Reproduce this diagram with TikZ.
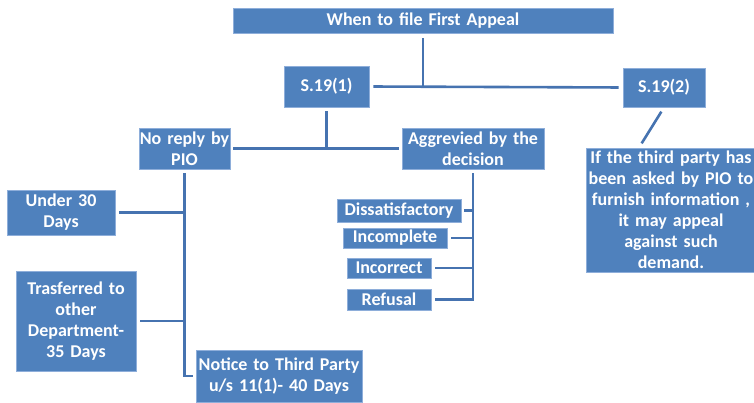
\documentclass[tikz,border=0pt]{standalone}
\usepackage{fontspec}
\setmainfont{Carlito}
\usetikzlibrary{calc}
\definecolor{boxblue}{HTML}{4F81BD}
\definecolor{boxedge}{HTML}{8EAEDA}
\definecolor{linkblue}{HTML}{4673B0}
\tikzset{
  bx/.style={fill=boxblue, draw=boxedge, line width=0.8pt, inner sep=0pt,
    align=center, text=white, font=\fontsize{18}{21}\selectfont\bfseries},
  lnk/.style={draw=linkblue, line width=2.6pt},
}
\newcommand{\bxnode}[6]{\node[bx, text width=#4pt, minimum height=#5pt] (#1) at (#2,#3) {#6};}
\begin{document}
\begin{tikzpicture}[x=1pt,y=-1pt]
\useasboundingbox (0,0) rectangle (754,403);
\bxnode{top}{423}{20.5}{380}{25}{When to file First Appeal}
\bxnode{sa}{326.5}{86.5}{85}{41}{S.19(1)}
\bxnode{sb}{664}{87.5}{82}{39}{S.19(2)}
\bxnode{third}{671}{210}{170}{124}{If the third party has\\been asked by PIO to\\furnish information ,\\it may appeal\\against such\\demand.}
\bxnode{noreply}{184.5}{148.5}{91}{41}{No reply by\\PIO}
\bxnode{aggr}{473}{148.5}{142}{41}{Aggrevied by the\\decision}
\bxnode{diss}{399}{210.5}{124}{23}{Dissatisfactory}
\bxnode{incomp}{395}{238}{104}{20}{Incomplete}
\bxnode{incorr}{389}{268}{84}{20}{Incorrect}
\bxnode{refusal}{389}{299.5}{84}{21}{Refusal}
\bxnode{under}{61}{212.5}{108}{45}{Under 30\\Days}
\bxnode{trans}{76}{321}{120}{100}{Trasferred to\\other\\Department-\\35 Days}
\bxnode{notice}{279}{376}{166}{52}{Notice to Third Party\\u/s 11(1)- 40 Days}
% top level
\draw[lnk, shorten <=5pt] (top.south) -- (top.south |- sa.east);
\draw[lnk, shorten <=4pt, shorten >=4pt] (sa.east) -- (sb.west);
\draw[lnk, shorten <=5pt, shorten >=5pt] (sb.south) -- ($(third.north)+(-32,0)$);
% S.19(1)
\draw[lnk, shorten <=4pt] (sa.south) -- (sa.south |- noreply.east);
\draw[lnk, shorten <=3pt, shorten >=3pt] (noreply.east) -- (aggr.west);
% aggrieved branch
\draw[lnk, shorten <=4pt] (aggr.south) -- (aggr.south |- refusal.east) -- ($(refusal.east)+(4,0)$);
\draw[lnk, shorten <=3pt] (diss.east) -- (diss.east -| aggr.south);
\draw[lnk, shorten <=4pt] (incomp.east) -- (incomp.east -| aggr.south);
\draw[lnk, shorten <=4pt] (incorr.east) -- (incorr.east -| aggr.south);
% no reply branch
\draw[lnk, shorten <=4pt] (noreply.south) -- (noreply.south |- notice.west) -- ($(notice.west)+(-3,0)$);
\draw[lnk, shorten <=4pt] (under.east) -- (under.east -| noreply.south);
\draw[lnk, shorten <=4pt] (trans.east) -- (trans.east -| noreply.south);
\end{tikzpicture}
\end{document}
